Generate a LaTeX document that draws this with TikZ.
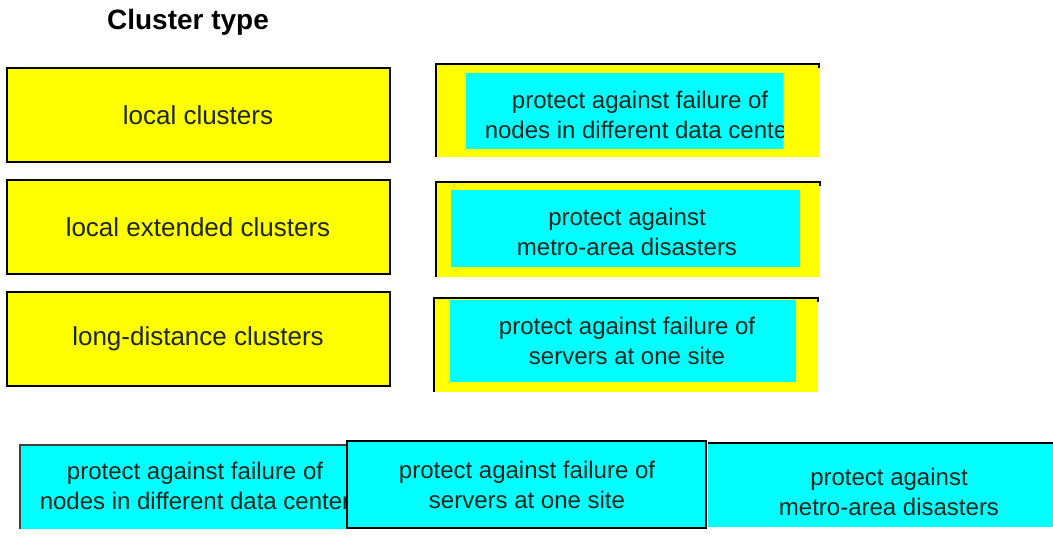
\documentclass[tikz,border=0pt]{standalone}
\usepackage{fontspec}
\setmainfont{Liberation Sans}
\definecolor{boxyellow}{RGB}{255,255,0}
\definecolor{boxcyan}{RGB}{0,255,255}
\definecolor{inktext}{RGB}{30,36,30}
\tikzset{
  typetext/.style={text=inktext,font=\fontsize{26}{31}\selectfont,inner sep=0pt},
  goaltext/.style={text=inktext,font=\fontsize{24}{30}\selectfont,align=center,inner sep=0pt},
}
\begin{document}
\begin{tikzpicture}[x=1pt,y=-1pt]
\useasboundingbox (0,0) rectangle (1053,557);

% title
\node[font=\bfseries\fontsize{28}{33}\selectfont,inner sep=0pt] (title) at (188,22) {Cluster type};

% cluster types (left)
\draw[fill=boxyellow,line width=1.2pt] (7,68) rectangle (390,162);
\node[typetext] (local) at (198,115) {local clusters};
\draw[fill=boxyellow,line width=1.2pt] (7,180) rectangle (390,274);
\node[typetext] (extended) at (198,227) {local extended clusters};
\draw[fill=boxyellow,line width=1.2pt] (7,292) rectangle (390,386);
\node[typetext] (longdist) at (198,339) {long-distance clusters};

% targets (right)
\fill[boxyellow] (436,64) rectangle (819,157);
\draw[line width=1.2pt] (436,157) -- (436,64) -- (819,64) -- (819,68);
\fill[boxcyan] (466,73) rectangle (783,149);
\begin{scope}
\clip (466,73) rectangle (783,149);
\node[goaltext] (slot1) at (640,115) {protect against failure of\\nodes in different data center};
\end{scope}

\fill[boxyellow] (436,182) rectangle (820,277);
\draw[line width=1.2pt] (436,277) -- (436,182) -- (820,182) -- (820,186);
\fill[boxcyan] (451,190) rectangle (800,267);
\node[goaltext] (slot2) at (627,232) {protect against\\metro-area disasters};

\fill[boxyellow] (434,298) rectangle (818,392);
\draw[line width=1.2pt] (434,392) -- (434,298) -- (818,298) -- (818,302);
\fill[boxcyan] (450,300) rectangle (796,382);
\node[goaltext] (slot3) at (627,341) {protect against failure of\\servers at one site};

% answer choices (bottom)
\fill[boxcyan] (20,445) rectangle (346,529);
\draw[black!75,line width=1.2pt] (20,529) -- (20,445) -- (346,445);
\begin{scope}
\clip (20,445) rectangle (346,529);
\node[goaltext] (pick1) at (195,486) {protect against failure of\\nodes in different data center};
\end{scope}

\draw[fill=boxcyan,line width=1.5pt] (347,441) rectangle (706,528);
\node[goaltext] (pick2) at (527,485) {protect against failure of\\servers at one site};

\fill[boxcyan] (708,443) rectangle (1053,527);
\draw[line width=2.5pt] (708,443) -- (1053,443);
\node[goaltext] (pick3) at (889,492) {protect against\\metro-area disasters};
\end{tikzpicture}
\end{document}
